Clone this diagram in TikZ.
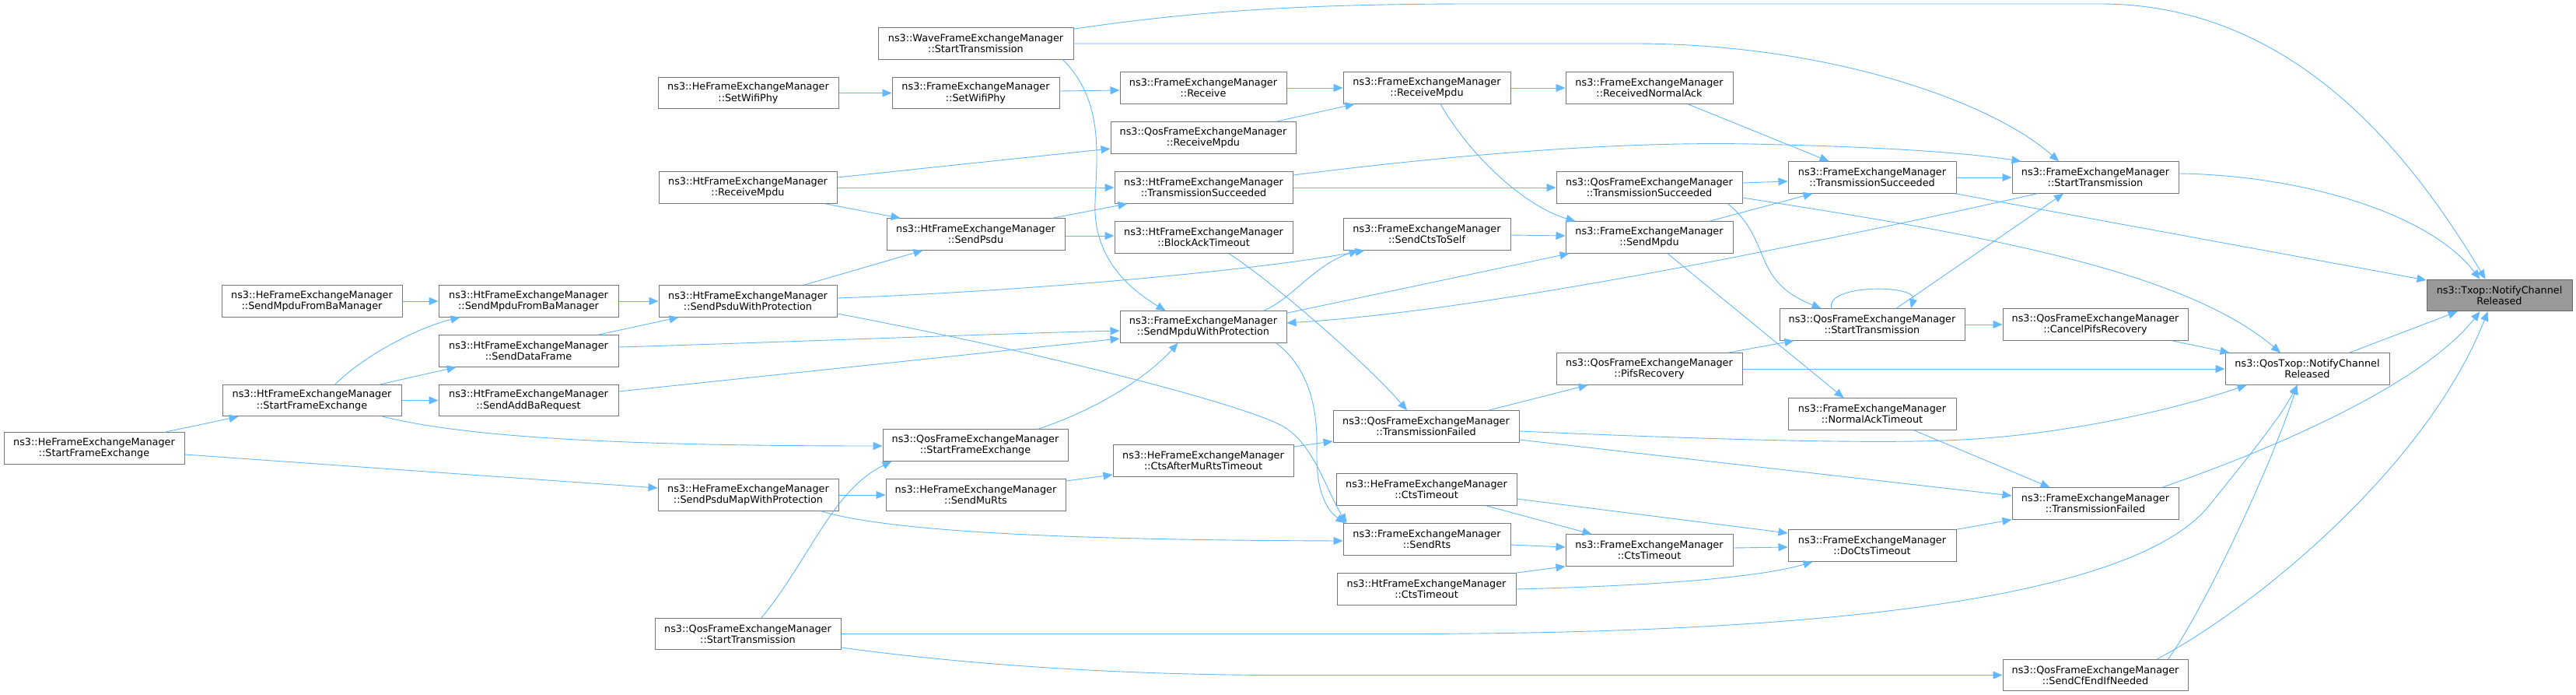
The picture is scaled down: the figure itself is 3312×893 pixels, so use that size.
\documentclass[tikz,border=0pt]{standalone}
\usepackage{fontspec}
\setmainfont{DejaVu Sans}
\usetikzlibrary{arrows.meta}
\definecolor{edgec}{HTML}{63B8FF}
\definecolor{nodeb}{HTML}{777777}
\definecolor{rootb}{HTML}{666666}
\definecolor{rootf}{HTML}{999999}
\begin{document}
\begin{tikzpicture}[x=1pt,y=-1pt,
 fn/.style={draw=nodeb, line width=1.0pt, fill=white, minimum height=40.5pt, inner xsep=2pt, inner ysep=0pt, align=center, font=\fontsize{12.8pt}{14.3pt}\selectfont},
 rootn/.style={fn, draw=rootb, fill=rootf},
 cl/.style={draw=edgec, line width=0.9pt, -{Triangle[length=12pt,width=10pt]}}]
\fill[white] (0,0) rectangle (3312,893);
\useasboundingbox (0,0) rectangle (3312,893);
% column 0-1
\node[fn, minimum width=232pt] (heSFE) at (121,576) {ns3::HeFrameExchangeManager\\::StartFrameExchange};
\node[fn, minimum width=232pt] (heSMFBM) at (401,387) {ns3::HeFrameExchangeManager\\::SendMpduFromBaManager};
\node[fn, minimum width=230pt] (htSFE) at (401,514.5) {ns3::HtFrameExchangeManager\\::StartFrameExchange};
% column 2a
\node[fn, minimum width=231pt] (htSMFBM) at (679.5,387) {ns3::HtFrameExchangeManager\\::SendMpduFromBaManager};
\node[fn, minimum width=231pt] (htSDF) at (679.5,451) {ns3::HtFrameExchangeManager\\::SendDataFrame};
\node[fn, minimum width=231pt] (htSABR) at (679.5,514.5) {ns3::HtFrameExchangeManager\\::SendAddBaRequest};
% column 2b
\node[fn, minimum width=232pt] (heSWP) at (962,119.5) {ns3::HeFrameExchangeManager\\::SetWifiPhy};
\node[fn, minimum width=229pt] (htRM) at (961.5,241) {ns3::HtFrameExchangeManager\\::ReceiveMpdu};
\node[fn, minimum width=229pt] (htSPWP) at (961.5,387) {ns3::HtFrameExchangeManager\\::SendPsduWithProtection};
\node[fn, minimum width=232pt] (heSPMWP) at (962,636) {ns3::HeFrameExchangeManager\\::SendPsduMapWithProtection};
\node[fn, minimum width=239pt] (qosST2) at (961.5,814.5) {ns3::QosFrameExchangeManager\\::StartTransmission};
% column 3
\node[fn, minimum width=251pt] (waveST) at (1254.5,56) {ns3::WaveFrameExchangeManager\\::StartTransmission};
\node[fn, minimum width=215pt] (femSWP) at (1254.5,119.5) {ns3::FrameExchangeManager\\::SetWifiPhy};
\node[fn, minimum width=229pt] (htSP) at (1254.5,301) {ns3::HtFrameExchangeManager\\::SendPsdu};
\node[fn, minimum width=238pt] (qosSFE) at (1254,572) {ns3::QosFrameExchangeManager\\::StartFrameExchange};
\node[fn, minimum width=231pt] (heSMR) at (1254.5,636) {ns3::HeFrameExchangeManager\\::SendMuRts};
% column 4
\node[fn, minimum width=214pt] (femRecv) at (1547,113) {ns3::FrameExchangeManager\\::Receive};
\node[fn, minimum width=238pt] (qosRM) at (1547,177) {ns3::QosFrameExchangeManager\\::ReceiveMpdu};
\node[fn, minimum width=229pt] (htTS) at (1547.5,241) {ns3::HtFrameExchangeManager\\::TransmissionSucceeded};
\node[fn, minimum width=229pt] (htBAT) at (1547.5,305) {ns3::HtFrameExchangeManager\\::BlockAckTimeout};
\node[fn, minimum width=214pt] (femSMWP) at (1547,420) {ns3::FrameExchangeManager\\::SendMpduWithProtection};
\node[fn, minimum width=232pt] (heCAMRT) at (1547,592) {ns3::HeFrameExchangeManager\\::CtsAfterMuRtsTimeout};
% column 5
\node[fn, minimum width=215pt] (femRM) at (1834.5,113) {ns3::FrameExchangeManager\\::ReceiveMpdu};
\node[fn, minimum width=215pt] (femSCTS) at (1834.5,301) {ns3::FrameExchangeManager\\::SendCtsToSelf};
\node[fn, minimum width=239pt] (qosTF) at (1833.5,548) {ns3::QosFrameExchangeManager\\::TransmissionFailed};
\node[fn, minimum width=232pt] (heCT) at (1834,629) {ns3::HeFrameExchangeManager\\::CtsTimeout};
\node[fn, minimum width=215pt] (femSR) at (1834.5,693) {ns3::FrameExchangeManager\\::SendRts};
\node[fn, minimum width=230pt] (htCT) at (1834,757) {ns3::HtFrameExchangeManager\\::CtsTimeout};
% column 6
\node[fn, minimum width=215pt] (femRNA) at (2120.5,113) {ns3::FrameExchangeManager\\::ReceivedNormalAck};
\node[fn, minimum width=239pt] (qosTS) at (2120.5,241) {ns3::QosFrameExchangeManager\\::TransmissionSucceeded};
\node[fn, minimum width=215pt] (femSM) at (2120.5,305) {ns3::FrameExchangeManager\\::SendMpdu};
\node[fn, minimum width=239pt] (qosPR) at (2120.5,474) {ns3::QosFrameExchangeManager\\::PifsRecovery};
\node[fn, minimum width=215pt] (femCT) at (2120.5,707) {ns3::FrameExchangeManager\\::CtsTimeout};
% column 7
\node[fn, minimum width=216pt] (femTS) at (2407,228) {ns3::FrameExchangeManager\\::TransmissionSucceeded};
\node[fn, minimum width=238pt] (qosST) at (2407,417) {ns3::QosFrameExchangeManager\\::StartTransmission};
\node[fn, minimum width=216pt] (femNAT) at (2407,532) {ns3::FrameExchangeManager\\::NormalAckTimeout};
\node[fn, minimum width=216pt] (femDCT) at (2407,701) {ns3::FrameExchangeManager\\::DoCtsTimeout};
% column 8
\node[fn, minimum width=214pt] (femST) at (2694,228) {ns3::FrameExchangeManager\\::StartTransmission};
\node[fn, minimum width=238pt] (qosCPR) at (2694,417) {ns3::QosFrameExchangeManager\\::CancelPifsRecovery};
\node[fn, minimum width=214pt] (femTF) at (2694,647) {ns3::FrameExchangeManager\\::TransmissionFailed};
\node[fn, minimum width=238pt] (qosSCEIN) at (2694,867.5) {ns3::QosFrameExchangeManager\\::SendCfEndIfNeeded};
% columns 9-10
\node[fn, minimum width=211pt] (qtxop) at (2966.5,474) {ns3::QosTxop::NotifyChannel\\Released};
\node[rootn, minimum width=187pt] (txop) at (3213.5,379.5) {ns3::Txop::NotifyChannel\\Released};
% edges
\draw[cl] (heSMFBM.east) -- (htSMFBM.west);
\draw[cl] ([xshift=30pt]htSFE.north) .. controls (470,455) and (540,420) .. ([xshift=28pt]htSMFBM.south west);
\draw[cl] ([xshift=88pt]htSFE.north) -- ([xshift=23pt]htSDF.south west);
\draw[cl] (htSFE.east) -- (htSABR.west);
\draw[cl] ([xshift=91pt]heSFE.north) -- ([xshift=21pt]htSFE.south west);
\draw[cl] ([yshift=-8pt]heSFE.east) -- ([yshift=9pt]heSPMWP.west);
\draw[cl] ([xshift=91pt]htSFE.south) .. controls (600,562) and (800,573) .. ([yshift=-1pt]qosSFE.west);
\draw[cl] ([yshift=-2pt]waveST.north east) .. controls (1550,12) and (1700,5) .. (1900,5) -- (2700,5) .. controls (2950,5) and (3100,200) .. ([xshift=-18pt]txop.north);
\draw[cl] (waveST.east) -- (2100,56) .. controls (2350,56) and (2560,130) .. ([xshift=-47pt]femST.north);
\draw[cl] ([xshift=-14pt]waveST.south east) .. controls (1420,130) and (1410,200) .. (1408,260) .. controls (1405,330) and (1450,370) .. ([xshift=59pt]femSMWP.north west);
\draw[cl] (heSWP.east) -- (femSWP.west);
\draw[cl] ([yshift=2.5pt]femSWP.east) -- ([yshift=-3pt]femRecv.west);
\draw[cl] (femRecv.east) -- (femRM.west);
\draw[cl] ([xshift=-26pt]qosRM.north east) -- ([xshift=15pt]femRM.south west);
\draw[cl] ([yshift=13pt]htRM.east) -- ([yshift=-14pt]qosRM.west);
\draw[cl] (htRM.east) -- (htTS.west);
\draw[cl] ([xshift=-16pt]htRM.south east) -- ([xshift=18pt]htSP.north west);
\draw[cl] ([xshift=-16pt]htSP.north east) -- ([xshift=17pt]htTS.south west);
\draw[cl] ([yshift=-2pt]htSP.east) -- ([yshift=2pt]htBAT.west);
\draw[cl] ([xshift=-43pt]htSPWP.north east) -- ([xshift=47pt]htSP.south west);
\draw[cl] (htSMFBM.east) -- (htSPWP.west);
\draw[cl] ([xshift=-27pt]htSDF.north east) -- ([xshift=26pt]htSPWP.south west);
\draw[cl] ([yshift=4pt]htSPWP.east) .. controls (1300,375) and (1600,350) .. ([xshift=28pt]femSCTS.south west);
\draw[cl] ([yshift=-16pt]htSPWP.east) .. controls (1350,455) and (1600,520) .. (1650,548) .. controls (1690,572) and (1705,630) .. ([xshift=5pt]femSR.north west);
\draw[cl] ([xshift=-14pt]femSMWP.south east) .. controls (1680,470) and (1695,520) .. (1693,580) .. controls (1692,630) and (1705,655) .. ([xshift=3pt]femSR.north west);
\draw[cl] ([xshift=-39pt]qosSFE.north east) .. controls (1400,530) and (1470,490) .. ([xshift=75pt]femSMWP.south west);
\draw[cl] ([yshift=5pt]htSDF.east) .. controls (1000,440) and (1300,428) .. ([yshift=-5pt]femSMWP.west);
\draw[cl] ([yshift=11.5pt]htSABR.east) -- ([yshift=-15pt]femSMWP.west);
\draw[cl] ([xshift=33pt]femST.south west) .. controls (2300,320) and (1900,400) .. ([yshift=5pt]femSMWP.east);
\draw[cl] ([xshift=-30pt]femSMWP.north east) .. controls (1660,385) and (1690,340) .. ([xshift=20pt]femSCTS.south west);
\draw[cl] ([yshift=-3pt]femSMWP.north east) -- ([xshift=5pt]femSM.south west);
\draw[cl] (femRM.east) -- (femRNA.west);
\draw[cl] ([xshift=17.5pt]femRM.south) .. controls (1890,200) and (1960,265) .. ([xshift=13pt]femSM.north west);
\draw[cl] ([xshift=49.5pt]femRNA.south) -- ([xshift=53pt]femTS.north west);
\draw[cl] (htTS.east) -- (qosTS.west);
\draw[cl] ([yshift=16pt]htTS.east) .. controls (1900,195) and (2100,182) .. (2250,185) .. controls (2400,188) and (2520,195) .. ([xshift=12pt]femST.north west);
\draw[cl] ([yshift=6pt]qosTS.east) -- ([yshift=-5pt]femTS.west);
\draw[cl] ([yshift=-13pt]qosTS.east) .. controls (2500,295) and (2800,340) .. ([xshift=-34.5pt]qtxop.north);
\draw[cl] ([xshift=-19pt]qosTS.south east) .. controls (2280,310) and (2250,360) .. ([xshift=54pt]qosST.north west);
\draw[cl] ([yshift=-1pt]femSCTS.east) -- ([yshift=2pt]femSM.west);
\draw[cl] ([xshift=-31pt]femSM.north east) -- ([xshift=32pt]femTS.south west);
\draw[cl] ([xshift=23.5pt]femSM.south) -- ([xshift=72pt]femNAT.north west);
\draw[cl] ([xshift=-52pt]qosST.north) .. controls (2345,365) and (2465,365) .. ([xshift=50pt]qosST.north);
\draw[cl] ([xshift=31pt]qosST.north) -- ([xshift=-41pt]femST.south);
\draw[cl] ([xshift=-19pt]qosPR.north east) -- ([xshift=19pt]qosST.south west);
\draw[cl] (femTS.east) -- (femST.west);
\draw[cl] ([yshift=5pt]femST.east) .. controls (2950,225) and (3120,270) .. ([xshift=-25pt]txop.north);
\draw[cl] ([xshift=-2pt]femTS.south east) -- ([yshift=19.5pt]txop.west);
\draw[cl] (qosST.east) -- (qosCPR.west);
\draw[cl] ([xshift=-21pt]qosCPR.south east) -- ([xshift=6pt]qtxop.north west);
\draw[cl] ([xshift=-52pt]qtxop.north east) -- ([xshift=40pt]txop.south west);
\draw[cl] ([xshift=-22pt]femTF.north east) .. controls (2900,585) and (3110,500) .. ([xshift=-25pt]txop.south);
\draw[cl] ([xshift=-40pt]qosSCEIN.north east) .. controls (2900,780) and (3120,600) .. ([xshift=-15pt]txop.south);
\draw[cl] ([xshift=-26pt]qosSCEIN.north east) .. controls (2830,790) and (2920,600) .. ([xshift=-13pt]qtxop.south);
\draw[cl] (qosST2.east) -- (1800,814.5) .. controls (2400,814.5) and (2750,760) .. (2840,650) .. controls (2880,600) and (2930,540) .. ([xshift=-13pt]qtxop.south);
\draw[cl] ([yshift=-17.5pt]qosST2.east) .. controls (1250,855) and (1450,867.5) .. (1650,867.5) -- (qosSCEIN.west);
\draw[cl] ([xshift=17.5pt]qosST2.north) .. controls (1040,720) and (1070,630) .. ([xshift=12pt]qosSFE.south west);
\draw[cl] (heSPMWP.east) -- (heSMR.west);
\draw[cl] ([xshift=-23pt]heSPMWP.south east) .. controls (1150,685) and (1400,694) .. ([yshift=-2pt]femSR.west);
\draw[cl] ([yshift=18pt]heSMR.east) -- ([yshift=-18pt]heCAMRT.west);
\draw[cl] ([yshift=18pt]heCAMRT.east) -- ([yshift=-19pt]qosTF.west);
\draw[cl] ([xshift=32.5pt]htBAT.south) .. controls (1640,365) and (1760,470) .. ([xshift=-24.5pt]qosTF.north);
\draw[cl] ([xshift=-40pt]qosTF.north east) -- ([xshift=41pt]qosPR.south west);
\draw[cl] ([yshift=-6pt]qosTF.east) .. controls (2200,565) and (2400,570) .. (2500,566) .. controls (2650,561) and (2800,525) .. ([xshift=28pt]qtxop.south west);
\draw[cl] ([yshift=-17pt]qosTF.east) -- ([yshift=10pt]femTF.west);
\draw[cl] (qosPR.east) -- (qtxop.west);
\draw[cl] ([xshift=-55pt]femNAT.south east) -- ([xshift=49pt]femTF.north west);
\draw[cl] (femDCT.north east) -- (femTF.south west);
\draw[cl] ([xshift=-40pt]heCT.south east) -- ([xshift=34pt]femCT.north west);
\draw[cl] ([yshift=-12pt]heCT.east) -- ([yshift=16pt]femDCT.west);
\draw[cl] ([yshift=-7pt]femSR.east) -- ([yshift=4pt]femCT.west);
\draw[cl] ([xshift=-1pt]htCT.north east) -- (femCT.south west);
\draw[cl] (htCT.east) .. controls (2150,752) and (2270,740) .. ([xshift=32pt]femDCT.south west);
\draw[cl] ([yshift=3pt]femCT.east) -- ([yshift=-2pt]femDCT.west);
\end{tikzpicture}
\end{document}
